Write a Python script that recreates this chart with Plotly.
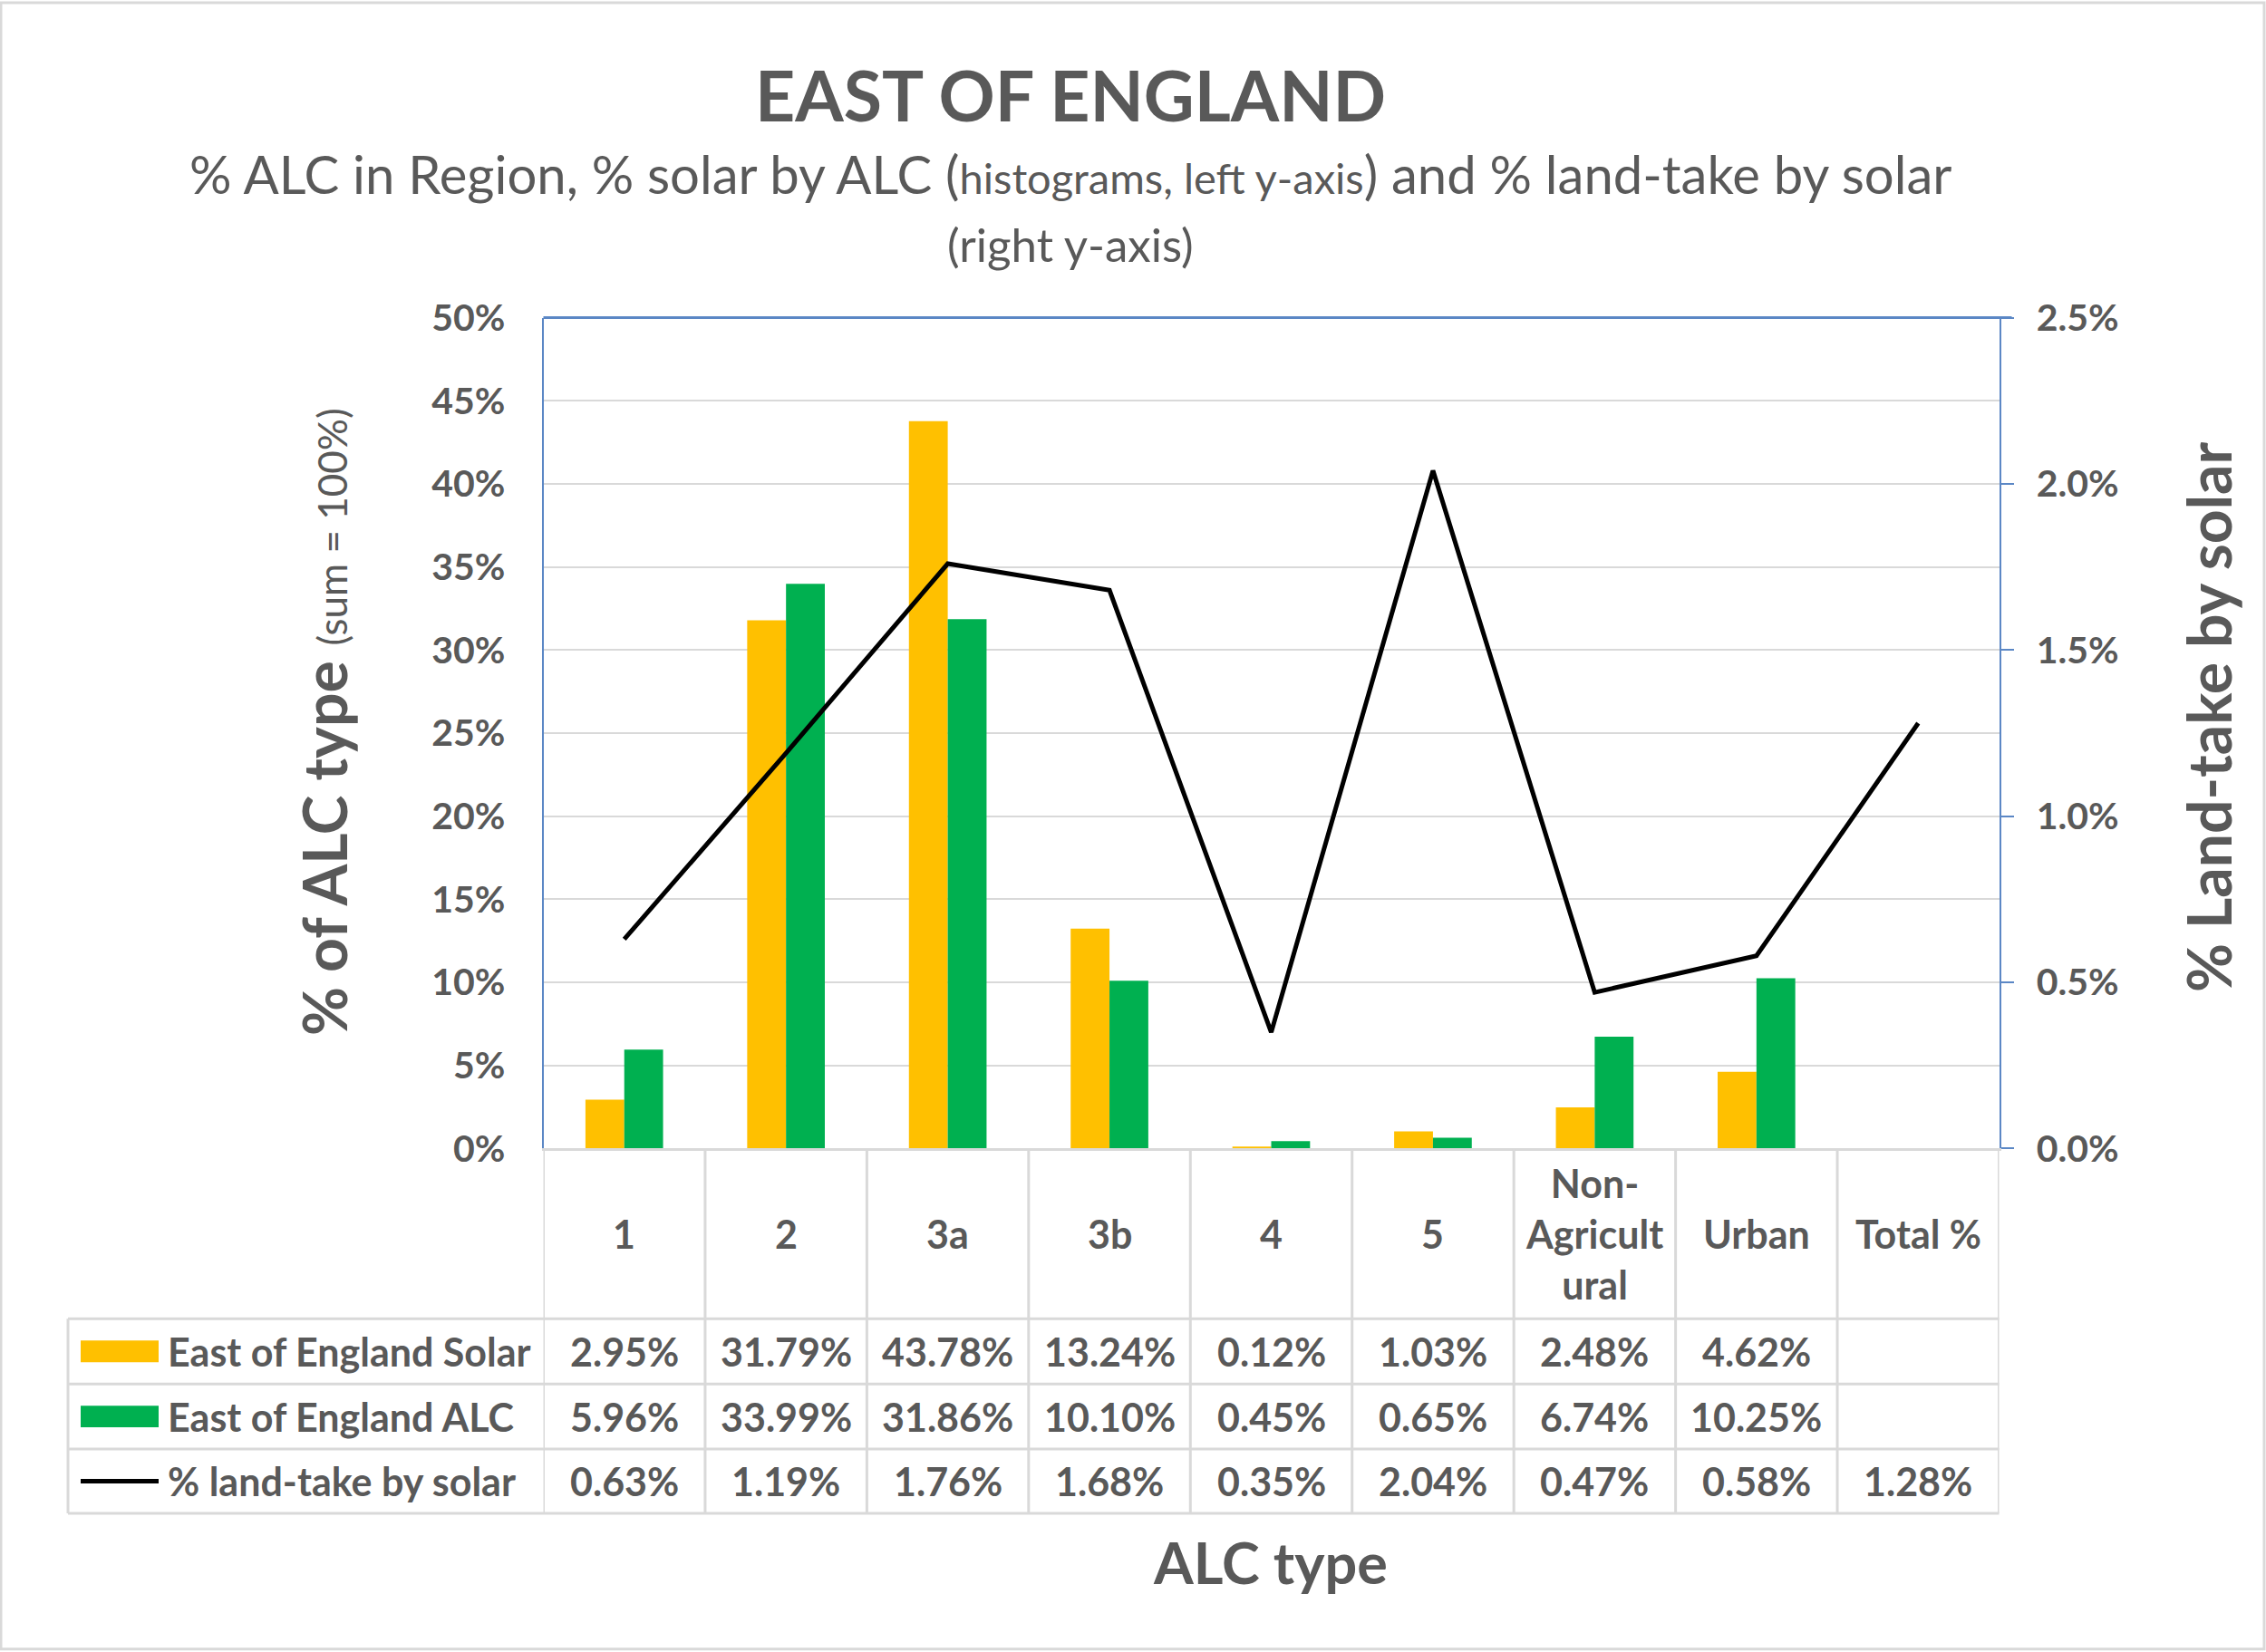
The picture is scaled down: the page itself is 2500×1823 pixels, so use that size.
import plotly.graph_objects as go

# ---------------- data ----------------
categories = ["1", "2", "3a", "3b", "4", "5", "Non-Agricultural", "Urban", "Total %"]
header_labels = ["1", "2", "3a", "3b", "4", "5", "Non-<br>Agricult<br>ural", "Urban", "Total %"]
solar = [2.95, 31.79, 43.78, 13.24, 0.12, 1.03, 2.48, 4.62, None]
alc = [5.96, 33.99, 31.86, 10.10, 0.45, 0.65, 6.74, 10.25, None]
land_take = [0.63, 1.19, 1.76, 1.68, 0.35, 2.04, 0.47, 0.58, 1.28]
series_names = ["East of England Solar", "East of England ALC", "% land-take by solar"]
left_ticks = [0, 5, 10, 15, 20, 25, 30, 35, 40, 45, 50]
right_ticks = [0.0, 0.5, 1.0, 1.5, 2.0, 2.5]

# ---------------- styling / layout helpers ----------------
W, H = 2500, 1823
FONT = "Lato, 'Open Sans', 'DejaVu Sans', sans-serif"
GREY = "#595959"
GRID = "#D9D9D9"
BLUE = "#5B87C5"
YELLOW = "#FFC000"
GREEN = "#00B050"

# compensation for the page capture (vertical offset / squeeze observed)
OFF, SQ = 25.0, 0.9743


def px(x):
    return x / W


def py(y):
    yf = (y - OFF) / SQ
    return 1 - yf / H


PLOT_L, PLOT_R, PLOT_T, PLOT_B = 599.5, 2205.5, 350, 1268
TABLE_L = 75
ROW_LINES = [1456, 1528, 1600, 1671]
HEADER_C = (PLOT_B + ROW_LINES[0]) / 2
ROW_C = [(ROW_LINES[i] + ROW_LINES[i + 1]) / 2 for i in range(3)]
idx = list(range(len(categories)))

fig = go.Figure()
fig.add_trace(go.Bar(x=categories, y=solar, name=series_names[0],
                     marker=dict(color=YELLOW, line=dict(width=0)), yaxis="y"))
fig.add_trace(go.Bar(x=categories, y=alc, name=series_names[1],
                     marker=dict(color=GREEN, line=dict(width=0)), yaxis="y"))
fig.add_trace(go.Scatter(x=categories, y=land_take, name=series_names[2], mode="lines",
                         line=dict(color="black", width=5), yaxis="y2"))

shapes = []
# top border of plot (blue)
shapes.append(dict(type="line", xref="paper", yref="paper",
                   x0=px(PLOT_L), x1=px(PLOT_R + 14), y0=py(PLOT_T), y1=py(PLOT_T),
                   line=dict(color=BLUE, width=3)))
# table horizontal lines
for yl in ROW_LINES:
    shapes.append(dict(type="line", xref="paper", yref="paper",
                       x0=px(TABLE_L), x1=px(PLOT_R), y0=py(yl), y1=py(yl),
                       line=dict(color=GRID, width=3)))
# table vertical lines at category boundaries
for i in range(len(categories) + 1):
    shapes.append(dict(type="line", xref="x", yref="paper",
                       x0=i - 0.5, x1=i - 0.5, y0=py(PLOT_B), y1=py(ROW_LINES[-1]),
                       line=dict(color=GRID, width=3)))
# outer left border of the legend part of the table
shapes.append(dict(type="line", xref="paper", yref="paper",
                   x0=px(TABLE_L), x1=px(TABLE_L), y0=py(ROW_LINES[0]), y1=py(ROW_LINES[-1]),
                   line=dict(color=GRID, width=3)))
# legend keys in table
for color, yc in [(YELLOW, ROW_C[0]), (GREEN, ROW_C[1])]:
    shapes.append(dict(type="rect", xref="paper", yref="paper",
                       x0=px(89), x1=px(175), y0=py(yc - 12), y1=py(yc + 12),
                       fillcolor=color, line=dict(width=0)))
shapes.append(dict(type="line", xref="paper", yref="paper",
                   x0=px(89), x1=px(175), y0=py(ROW_C[2]), y1=py(ROW_C[2]),
                   line=dict(color="black", width=5)))
# chart border
shapes.append(dict(type="rect", xref="paper", yref="paper",
                   x0=px(1), x1=px(2498), y0=py(1821), y1=py(2),
                   line=dict(color=GRID, width=3)))

ann = []
# title and subtitle
ann.append(dict(xref="paper", yref="paper", x=px(1181), y=py(103), showarrow=False,
                text="<b>EAST OF ENGLAND</b>", font=dict(family=FONT, size=77, color=GREY),
                xanchor="center", yanchor="middle"))
ann.append(dict(xref="paper", yref="paper", x=px(1181), y=py(191), showarrow=False,
                text="% ALC in Region, % solar by ALC (<span style='font-size:47px'>histograms, left y-axis</span>) and % land-take by solar",
                font=dict(family=FONT, size=58, color=GREY), xanchor="center", yanchor="middle"))
ann.append(dict(xref="paper", yref="paper", x=px(1181), y=py(269), showarrow=False,
                text="(right y-axis)", font=dict(family=FONT, size=51, color=GREY),
                xanchor="center", yanchor="middle"))
# axis titles
ann.append(dict(xref="paper", yref="paper", x=px(357), y=py(797), showarrow=False, textangle=-90,
                text="<b>% of ALC type</b> <span style='font-size:44px'>(sum = 100%)</span>",
                font=dict(family=FONT, size=66, color=GREY), xanchor="center", yanchor="middle"))
ann.append(dict(xref="paper", yref="paper", x=px(2436), y=py(791), showarrow=False, textangle=-90,
                text="<b>% Land-take by solar</b>",
                font=dict(family=FONT, size=66, color=GREY), xanchor="center", yanchor="middle"))
ann.append(dict(xref="paper", yref="paper", x=px(1401), y=py(1725), showarrow=False,
                text="<b>ALC type</b>",
                font=dict(family=FONT, size=63, color=GREY), xanchor="center", yanchor="middle"))
# table header
TFONT = dict(family=FONT, size=43, color=GREY, weight="bold")
for i, lab in zip(idx, header_labels):
    ann.append(dict(xref="x", yref="paper", x=i, y=py(HEADER_C), showarrow=False,
                    text=lab, font=TFONT, xanchor="center", yanchor="middle"))
# table rows
for name, vals, yc in zip(series_names, [solar, alc, land_take], ROW_C):
    ann.append(dict(xref="paper", yref="paper", x=px(183), y=py(yc), showarrow=False,
                    text=name, font=TFONT, xanchor="left", yanchor="middle"))
    for i, v in zip(idx, vals):
        if v is None:
            continue
        ann.append(dict(xref="x", yref="paper", x=i, y=py(yc), showarrow=False,
                        text=f"{v:.2f}%", font=TFONT, xanchor="center", yanchor="middle"))

fig.update_layout(
    width=W, height=H, autosize=False,
    margin=dict(l=0, r=0, t=0, b=0),
    paper_bgcolor="white", plot_bgcolor="white",
    showlegend=False,
    barmode="group", bargap=0.52, bargroupgap=0,
    font=dict(family=FONT, color=GREY),
    xaxis=dict(type="category", domain=[px(PLOT_L), px(PLOT_R)], range=[-0.5, 8.5],
               showticklabels=False, showgrid=False, zeroline=False,
               showline=True, linecolor=GRID, linewidth=3, ticks=""),
    yaxis=dict(domain=[py(PLOT_B), py(PLOT_T)], range=[0, 50],
               tickvals=left_ticks, ticktext=[f"{v}%" for v in left_ticks],
               tickfont=dict(family=FONT, size=41, color=GREY, weight="bold"),
               showgrid=True, gridcolor=GRID, gridwidth=2, zeroline=False,
               showline=True, linecolor=BLUE, linewidth=2, ticks="",
               ticklabelstandoff=32),
    yaxis2=dict(overlaying="y", side="right", anchor="x", range=[0, 2.5],
                tickvals=right_ticks, ticktext=[f"{v:.1f}%" for v in right_ticks],
                tickfont=dict(family=FONT, size=41, color=GREY, weight="bold"),
                showgrid=False, zeroline=False,
                showline=True, linecolor=BLUE, linewidth=2,
                ticks="outside", ticklen=14, tickwidth=2, tickcolor=BLUE,
                ticklabelstandoff=17),
    shapes=shapes, annotations=ann,
)

fig.write_html("out.html")
